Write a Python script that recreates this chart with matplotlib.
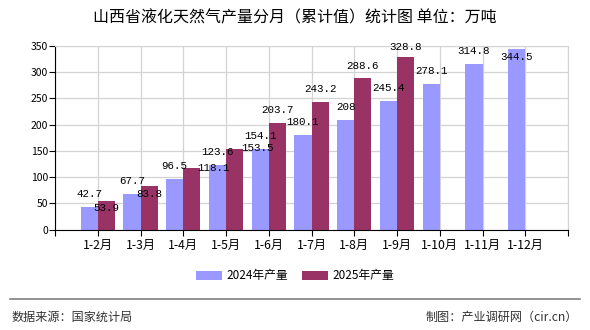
import matplotlib.pyplot as plt
import numpy as np

plt.rcParams['font.family'] = ['Noto Sans CJK SC', 'DejaVu Sans']

months = ['1-2月', '1-3月', '1-4月', '1-5月', '1-6月', '1-7月', '1-8月',
          '1-9月', '1-10月', '1-11月', '1-12月']
prod_2024 = [42.7, 67.7, 96.5, 123.6, 154.1, 180.1, 208, 245.4, 278.1, 314.8, 344.5]
prod_2025 = [53.9, 83.8, 118.1, 153.5, 203.7, 243.2, 288.6, 328.8]
label_2024 = ['42.7', '67.7', '96.5', '123.6', '154.1', '180.1', '208', '245.4',
              '278.1', '314.8', '344.5']
label_2025 = ['53.9', '83.8', '118.1', '153.5', '203.7', '243.2', '288.6', '328.8']

# label offsets in pixels (the source chart nudges a few labels around)
off_2024 = [(0, 13)] * 10 + [(0, -8)]
off_2025 = [(0, -7), (0, -8), (22, 0), (23, 1), (0, 13), (0, 13), (0, 12), (0, 10)]

c24 = '#9999ff'
c25 = '#993366'

fig = plt.figure(figsize=(5.9, 3.3), dpi=100)
ax = fig.add_axes([55 / 590, 1 - 229.5 / 330, 513 / 590, 183.5 / 330])

x = np.arange(len(months))
w = 0.4
ax.bar(x - w / 2, prod_2024, width=w, color=c24, label='2024年产量', zorder=2)
ax.bar(x[:len(prod_2025)] + w / 2, prod_2025, width=w, color=c25, label='2025年产量', zorder=2)

for i, v in enumerate(prod_2024):
    ax.annotate(label_2024[i], (x[i] - w / 2, v), xytext=off_2024[i],
                textcoords='offset pixels', ha='center', va='center',
                fontsize=7.8, family='Liberation Mono', zorder=3)
for i, v in enumerate(prod_2025):
    ax.annotate(label_2025[i], (x[i] + w / 2, v), xytext=off_2025[i],
                textcoords='offset pixels', ha='center', va='center',
                fontsize=7.8, family='Liberation Mono', zorder=3)

ax.set_xlim(-1, 11)
ax.set_ylim(0, 350)
ax.set_yticks(range(0, 351, 50))
ax.set_xticks(np.arange(-1, 12))
ax.set_xticklabels([''] + months + [''], fontsize=8.8)
ax.tick_params(axis='y', labelsize=7.5, length=4, pad=1)
ax.tick_params(axis='x', length=4, pad=3)
ax.grid(True, color='#d3d3d3', linewidth=0.9, zorder=0)
ax.set_axisbelow(True)
for s in ['top', 'right']:
    ax.spines[s].set_color('#d3d3d3')
ax.spines['left'].set_color('black')
ax.spines['bottom'].set_color('black')

fig.text(0.5, 1 - 18 / 330, '山西省液化天然气产量分月（累计值）统计图 单位：万吨',
         ha='center', va='center', fontsize=11.5)

fig.legend(loc='center', bbox_to_anchor=(0.5, 1 - 276 / 330), ncol=2, frameon=False,
           fontsize=8.5, handlelength=2.2, handleheight=0.9, columnspacing=1.2,
           handletextpad=0.4)

fig.add_artist(plt.Line2D([10 / 590, 580 / 590], [1 - 299 / 330] * 2,
                          color='#808080', linewidth=1.2))
fig.text(12 / 590, 1 - 317 / 330, '数据来源：国家统计局', ha='left', va='center',
         fontsize=8.7, color='#333333')
fig.text(578 / 590, 1 - 317 / 330, '制图：产业调研网（cir.cn）', ha='right', va='center',
         fontsize=8.7, color='#333333')

fig.savefig('out.png', dpi=100)
